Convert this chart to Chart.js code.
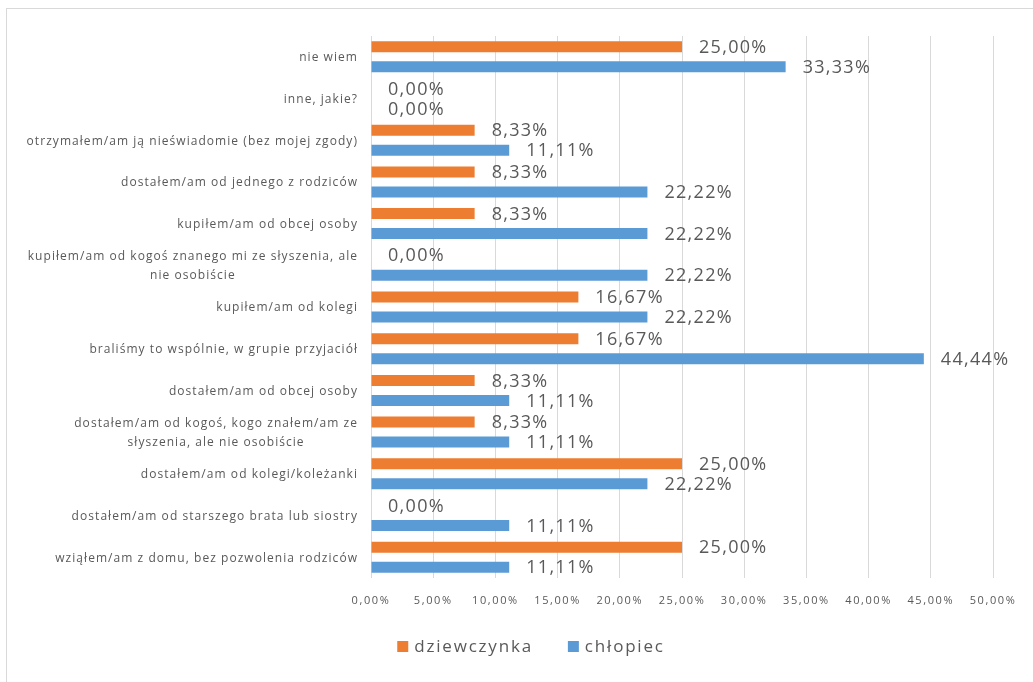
<!DOCTYPE html>
<html><head><meta charset="utf-8">
<script src="https://cdn.jsdelivr.net/npm/chart.js@4"></script>
<style>
html,body{margin:0;padding:0;background:#fff;overflow:hidden;width:1033px;height:682px;}
#frame{position:absolute;left:6px;top:8px;width:1100px;height:700px;border:1px solid #d9d9d9;box-sizing:border-box;}
#c{position:absolute;left:0;top:0;}
</style></head><body>
<div id="frame"></div>
<canvas id="c" width="1033" height="682"></canvas>
<script>
const categories = [
  'nie wiem',
  'inne, jakie?',
  'otrzymałem/am ją nieświadomie (bez mojej zgody)',
  'dostałem/am od jednego z rodziców',
  'kupiłem/am od obcej osoby',
  ['kupiłem/am od kogoś znanego mi ze słyszenia, ale', 'nie osobiście'],
  'kupiłem/am od kolegi',
  'braliśmy to wspólnie, w grupie przyjaciół',
  'dostałem/am od obcej osoby',
  ['dostałem/am od kogoś, kogo znałem/am ze', 'słyszenia, ale nie osobiście'],
  'dostałem/am od kolegi/koleżanki',
  'dostałem/am od starszego brata lub siostry',
  'wziąłem/am z domu, bez pozwolenia rodziców'
];
const dziewczynka = [25.00, 0.00, 8.33, 8.33, 8.33, 0.00, 16.67, 16.67, 8.33, 8.33, 25.00, 0.00, 25.00];
const chlopiec   = [33.33, 0.00, 11.11, 22.22, 22.22, 22.22, 22.22, 44.44, 11.11, 11.11, 22.22, 11.11, 11.11];
const seriesNames = ['dziewczynka', 'chłopiec'];
const seriesColors = ['#ED7D31', '#5B9BD5'];
const xTickLabels = ['0,00%', '5,00%', '10,00%', '15,00%', '20,00%', '25,00%', '30,00%', '35,00%', '40,00%', '45,00%', '50,00%'];

const TEXT = '#595959';
const fmt = v => v.toFixed(2).replace('.', ',') + '%';

const customDraw = {
  id: 'customDraw',
  beforeDraw(chart) { chart.ctx.letterSpacing = '1.6px'; },
  afterDraw(chart) {
    const ctx = chart.ctx;
    ctx.save();
    ctx.fillStyle = TEXT;
    // data labels
    ctx.font = '18px "Open Sans"';
    ctx.letterSpacing = '1.3px';
    ctx.textAlign = 'left';
    ctx.textBaseline = 'middle';
    chart.data.datasets.forEach((ds, di) => {
      const meta = chart.getDatasetMeta(di);
      meta.data.forEach((el, i) => {
        ctx.fillText(fmt(ds.data[i]), el.x + 17, el.y + 1);
      });
    });
    // category labels
    const ys = chart.scales.y;
    ctx.font = '12px "Open Sans"';
    ctx.letterSpacing = '1.05px';
    const right = 358, lh = 19;
    chart.data.labels.forEach((lab, i) => {
      const lines = Array.isArray(lab) ? lab : [lab];
      const cy = ys.getPixelForValue(i) + 1;
      const bw = Math.max(...lines.map(l => ctx.measureText(l).width));
      lines.forEach((l, j) => {
        const y = cy + (j - (lines.length - 1) / 2) * lh;
        if (lines.length > 1) { ctx.textAlign = 'center'; ctx.fillText(l, right - bw / 2, y); }
        else { ctx.textAlign = 'right'; ctx.fillText(l, right, y); }
      });
    });
    // legend
    ctx.font = '17px "Open Sans"';
    ctx.letterSpacing = '1.8px';
    ctx.textAlign = 'left';
    const box = 11, gapText = 6, gapItem = 35, legendCenter = 531, ly = 647;
    const widths = seriesNames.map(n => ctx.measureText(n).width);
    const total = widths.reduce((a, w) => a + box + gapText + w, 0) + gapItem * (seriesNames.length - 1);
    let x = legendCenter - total / 2;
    seriesNames.forEach((n, k) => {
      ctx.fillStyle = seriesColors[k];
      ctx.fillRect(x, ly - 6, box, box);
      ctx.fillStyle = TEXT;
      ctx.fillText(n, x + box + gapText, ly);
      x += box + gapText + widths[k] + gapItem;
    });
    ctx.restore();
    ctx.letterSpacing = '0px';
  }
};

new Chart(document.getElementById('c'), {
  type: 'bar',
  data: {
    labels: categories,
    datasets: [
      { label: seriesNames[0], data: dziewczynka, backgroundColor: seriesColors[0], categoryPercentage: 0.96, barPercentage: 0.55 },
      { label: seriesNames[1], data: chlopiec, backgroundColor: seriesColors[1], categoryPercentage: 0.96, barPercentage: 0.55 }
    ]
  },
  options: {
    indexAxis: 'y',
    responsive: false,
    animation: false,
    devicePixelRatio: 1,
    layout: { padding: { top: 36, right: 40, bottom: 0, left: 0 } },
    plugins: { legend: { display: false }, tooltip: { enabled: false } },
    scales: {
      x: {
        min: 0, max: 50,
        ticks: { stepSize: 5, callback: (v, i) => xTickLabels[i], color: TEXT, font: { family: 'Open Sans', size: 11 }, padding: 16, maxRotation: 0, autoSkip: false },
        grid: { color: '#d9d9d9', drawTicks: false },
        border: { display: false },
        afterFit(s) { s.height = 104; }
      },
      y: {
        ticks: { display: false },
        grid: { display: false },
        border: { display: false },
        afterFit(s) { s.width = 371; }
      }
    }
  },
  plugins: [customDraw]
});
</script>
</body></html>
